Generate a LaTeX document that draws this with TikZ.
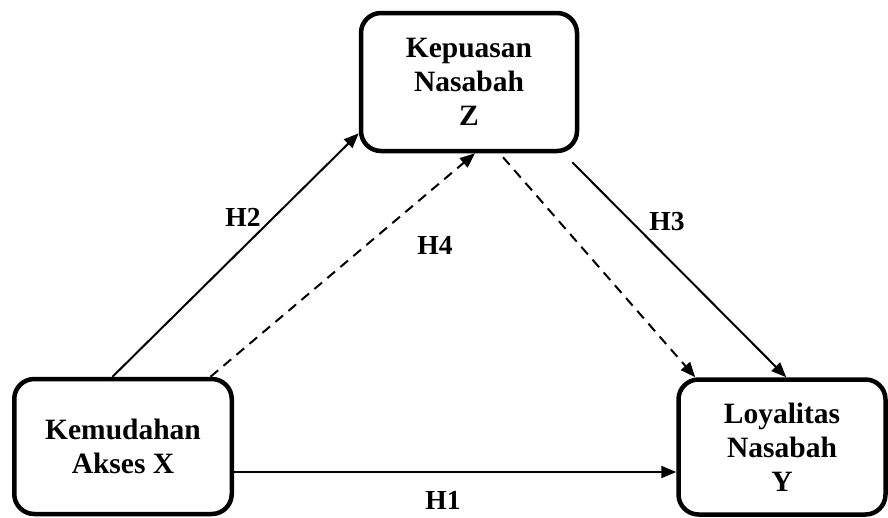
\documentclass[tikz,border=0pt]{standalone}
\usepackage{fontspec}
\setmainfont{Liberation Serif}
\usetikzlibrary{arrows.meta,calc}
\begin{document}
\begin{tikzpicture}[x=1pt,y=-1pt,
  varbox/.style={draw=black,line width=4.5pt,rounded corners=20pt,align=center,
    inner sep=0pt,font=\fontsize{29.5}{34}\selectfont\bfseries},
  conn/.style={line width=2pt,-{Triangle[length=15pt,width=12pt]}},
  dconn/.style={conn,dash pattern=on 10pt off 7pt},
  hlabel/.style={font=\fontsize{27.5}{30}\selectfont\bfseries,inner sep=0pt}]
\useasboundingbox (0,0) rectangle (888,517);
\node[varbox,minimum width=216pt,minimum height=138pt] (Z) at (469,82) {Kepuasan\\Nasabah\\Z};
\node[varbox,minimum width=217.5pt,minimum height=135pt] (X) at (123,446.5) {Kemudahan\\Akses X};
\node[varbox,minimum width=207pt,minimum height=135pt] (Y) at (782,447) {Loyalitas\\Nasabah\\Y};
\draw[conn] ($(X.north west)+(100.5,0)$) -- ($(Z.south west)+(0,-20)$);
\draw[dconn] ($(X.north west)+(198.5,0)$) -- ($(Z.south)+(6,0)$);
\draw[dconn] ($(Z.south)+(34,4)$) -- ($(Y.north west)+(19,0)$);
\draw[conn] ($(Z.south east)+(-7,9)$) -- ($(Y.north west)+(110,0)$);
\draw[conn] ($(X.east)+(0,25.5)$) -- ($(Y.west)+(0,25)$);
\node[hlabel] (h2) at (243,217) {H2};
\node[hlabel] (h4) at (435,245) {H4};
\node[hlabel] (h3) at (667,222) {H3};
\node[hlabel] (h1) at (443,500) {H1};
\end{tikzpicture}
\end{document}
